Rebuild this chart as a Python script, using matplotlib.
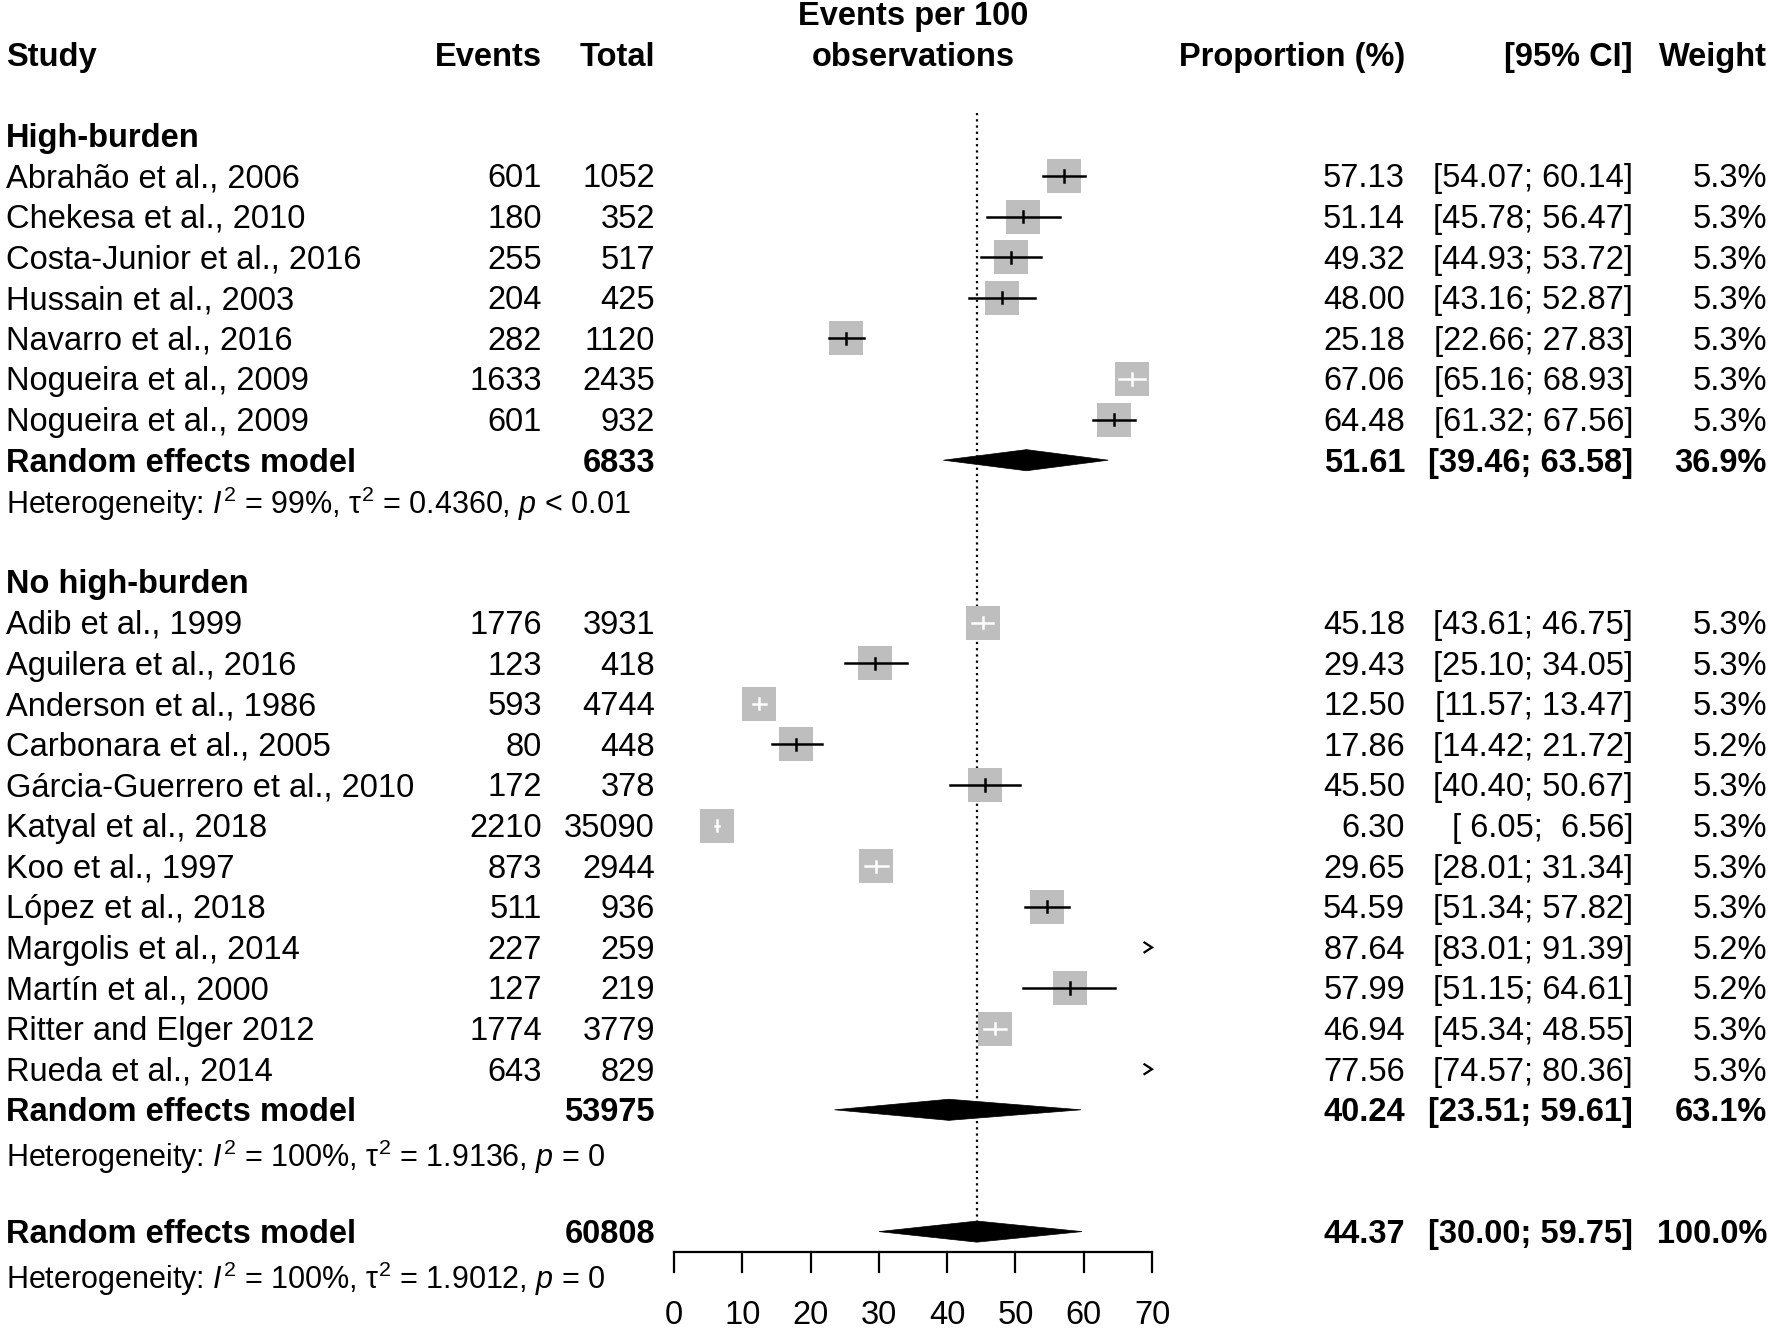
#Forest plot: proporcion de eventos por 100 observaciones
import numpy as np
import matplotlib
matplotlib.use("Agg")
import matplotlib.pyplot as plt
from matplotlib.patches import Polygon

plt.rcParams['font.family'] = ['Liberation Sans', 'DejaVu Sans']
plt.rcParams['mathtext.fontset'] = 'custom'
plt.rcParams['mathtext.rm'] = 'Liberation Sans'
plt.rcParams['mathtext.it'] = 'Liberation Sans:italic'
plt.rcParams['mathtext.bf'] = 'Liberation Sans:bold'

#Datos del grupo High-burden
estudios_1 = ["Abrahão et al., 2006", "Chekesa et al., 2010", "Costa-Junior et al., 2016",
              "Hussain et al., 2003", "Navarro et al., 2016", "Nogueira et al., 2009",
              "Nogueira et al., 2009"]
eventos_1 = [601, 180, 255, 204, 282, 1633, 601]
totales_1 = [1052, 352, 517, 425, 1120, 2435, 932]
prop_1 = [57.13, 51.14, 49.32, 48.00, 25.18, 67.06, 64.48]
inf_1 = [54.07, 45.78, 44.93, 43.16, 22.66, 65.16, 61.32]
sup_1 = [60.14, 56.47, 53.72, 52.87, 27.83, 68.93, 67.56]
peso_1 = [5.3, 5.3, 5.3, 5.3, 5.3, 5.3, 5.3]
rem_1 = [6833, 51.61, 39.46, 63.58, 36.9]
het_1 = r"Heterogeneity: $I^2$ = 99%, $\mathrm{\tau}^2$ = 0.4360, $p$ < 0.01"

#Datos del grupo No high-burden
estudios_2 = ["Adib et al., 1999", "Aguilera et al., 2016", "Anderson et al., 1986",
              "Carbonara et al., 2005", "Gárcia-Guerrero et al., 2010", "Katyal et al., 2018",
              "Koo et al., 1997", "López et al., 2018", "Margolis et al., 2014",
              "Martín et al., 2000", "Ritter and Elger 2012", "Rueda et al., 2014"]
eventos_2 = [1776, 123, 593, 80, 172, 2210, 873, 511, 227, 127, 1774, 643]
totales_2 = [3931, 418, 4744, 448, 378, 35090, 2944, 936, 259, 219, 3779, 829]
prop_2 = [45.18, 29.43, 12.50, 17.86, 45.50, 6.30, 29.65, 54.59, 87.64, 57.99, 46.94, 77.56]
inf_2 = [43.61, 25.10, 11.57, 14.42, 40.40, 6.05, 28.01, 51.34, 83.01, 51.15, 45.34, 74.57]
sup_2 = [46.75, 34.05, 13.47, 21.72, 50.67, 6.56, 31.34, 57.82, 91.39, 64.61, 48.55, 80.36]
peso_2 = [5.3, 5.3, 5.3, 5.2, 5.3, 5.3, 5.3, 5.3, 5.2, 5.2, 5.3, 5.3]
rem_2 = [53975, 40.24, 23.51, 59.61, 63.1]
het_2 = r"Heterogeneity: $I^2$ = 100%, $\mathrm{\tau}^2$ = 1.9136, $p$ = 0"

#Modelo global
rem_total = [60808, 44.37, 30.00, 59.75, 100.0]
het_total = r"Heterogeneity: $I^2$ = 100%, $\mathrm{\tau}^2$ = 1.9012, $p$ = 0"

ticks = [0, 10, 20, 30, 40, 50, 60, 70]

#Figura y ejes
W, H = 1770, 1328
fig = plt.figure(figsize=(W / 100, H / 100), dpi=100)
ax = fig.add_axes([0, 0, 1, 1])
k = (1152 - 674) / 70.0
ax.set_xlim(-674 / k, (W - 674) / k)
ax.set_ylim((H - 176) / 40.6, -176 / 40.6)
ax.axis("off")
tr = ax.get_yaxis_transform()

fs = 23.5
fs_het = 22
dy = 0.07  #ajuste vertical del texto
col_study, col_ev, col_tot = 6 / W, 542 / W, 655 / W
col_prop, col_ci, col_w = 1405 / W, 1633 / W, 1767 / W
caja = 34 * 0.72  #lado de la caja en puntos
media = (34 / 2) / k  #medio lado de la caja en unidades de x


def texto(x, y, s, ha="right", bold=False, size=fs, trans=tr):
    ax.text(x, y + dy, s, transform=trans, ha=ha, va="center", fontsize=size,
            fontweight="bold" if bold else "normal")


def fmt_ci(a, b):
    return "[%5.2f; %5.2f]" % (a, b)


def fila_estudio(y, nombre, ev, tot, p, lo, up, w):
    texto(col_study, y, nombre, ha="left")
    texto(col_ev, y, str(ev))
    texto(col_tot, y, str(tot))
    texto(col_prop, y, "%.2f" % p)
    texto(col_ci, y, fmt_ci(lo, up))
    texto(col_w, y, "%.1f%%" % w)
    if lo > ticks[-1]:
        #fuera del rango: flecha
        ax.plot([ticks[-1] - 1.1, ticks[-1], ticks[-1] - 1.1], [y - 0.12, y, y + 0.12],
                color="black", lw=1.6, solid_joinstyle="miter")
        return
    s = np.sqrt(w / 5.3)
    ax.plot([p], [y], marker="s", ms=caja * s, color="#BEBEBE", mew=0, zorder=2)
    dentro = (lo >= p - media * s) and (up <= p + media * s)
    c = "white" if dentro else "black"
    ax.plot([lo, up], [y, y], color=c, lw=1.8, zorder=3)
    ax.plot([p, p], [y - 0.14, y + 0.14], color=c, lw=1.8, zorder=3)


def fila_modelo(y, datos):
    tot, p, lo, up, w = datos
    texto(col_study, y, "Random effects model", ha="left", bold=True)
    texto(col_tot, y, str(tot), bold=True)
    texto(col_prop, y, "%.2f" % p, bold=True)
    texto(col_ci, y, fmt_ci(lo, up), bold=True)
    texto(col_w, y, "%.1f%%" % w, bold=True)
    ax.add_patch(Polygon([(lo, y), (p, y - 0.26), (up, y), (p, y + 0.26)], closed=True,
                         facecolor="black", edgecolor="black", lw=0.5, zorder=4))


#Encabezados
for x, t, ha in [(col_study, "Study", "left"), (col_ev, "Events", "right"),
                 (col_tot, "Total", "right"), (col_prop, "Proportion (%)", "right"),
                 (col_ci, "[95% CI]", "right"), (col_w, "Weight", "right")]:
    texto(x, -3, t, ha=ha, bold=True)
texto(35, -4, "Events per 100", ha="center", bold=True, trans=ax.transData)
texto(35, -3, "observations", ha="center", bold=True, trans=ax.transData)

#Grupo 1
texto(col_study, -1, "High-burden", ha="left", bold=True)
for i in range(len(estudios_1)):
    fila_estudio(i, estudios_1[i], eventos_1[i], totales_1[i], prop_1[i], inf_1[i],
                 sup_1[i], peso_1[i])
fila_modelo(7, rem_1)
texto(col_study, 8, het_1, ha="left", size=fs_het)

#Grupo 2
texto(col_study, 10, "No high-burden", ha="left", bold=True)
for i in range(len(estudios_2)):
    fila_estudio(11 + i, estudios_2[i], eventos_2[i], totales_2[i], prop_2[i], inf_2[i],
                 sup_2[i], peso_2[i])
fila_modelo(23, rem_2)
texto(col_study, 24.1, het_2, ha="left", size=fs_het)

#Global
fila_modelo(26, rem_total)
texto(col_study, 27.1, het_total, ha="left", size=fs_het)

#Linea punteada en el efecto global
ax.plot([rem_total[1], rem_total[1]], [-1.55, 26], color="black", lw=1.6,
        ls=(0, (1, 1.8)), zorder=1)

#Eje x
ax.plot([ticks[0], ticks[-1]], [26.5, 26.5], color="black", lw=1.6)
for t in ticks:
    ax.plot([t, t], [26.5, 27.0], color="black", lw=1.6)
    texto(t, 28.0, str(t), ha="center", trans=ax.transData)

fig.savefig("out.png", dpi=100)
